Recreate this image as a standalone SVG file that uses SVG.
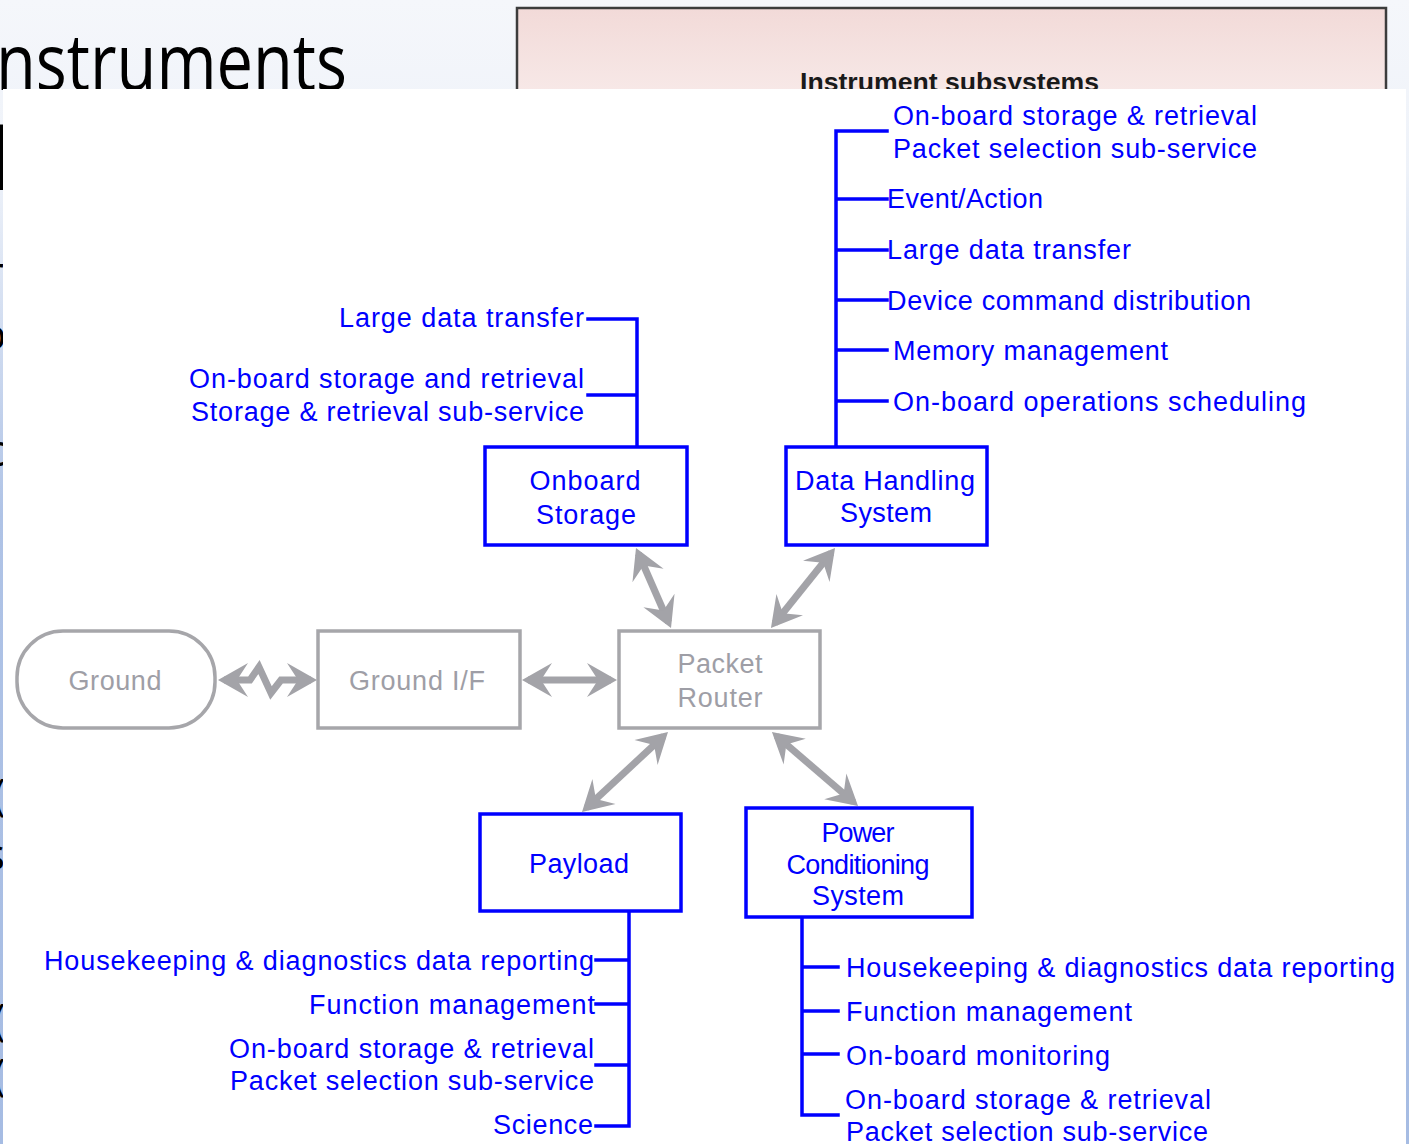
<svg xmlns="http://www.w3.org/2000/svg" width="1409" height="1144" viewBox="0 0 1409 1144">
  <defs>
    <linearGradient id="slideBg" x1="0" y1="0" x2="0" y2="1">
      <stop offset="0" stop-color="#f5f7fb"/>
      <stop offset="0.15" stop-color="#eef2f9"/>
      <stop offset="0.45" stop-color="#afc3e6"/>
      <stop offset="1" stop-color="#a6bce3"/>
    </linearGradient>
    <linearGradient id="pinkFade" x1="0" y1="0" x2="0" y2="1">
      <stop offset="0" stop-color="#f2dad8"/>
      <stop offset="1" stop-color="#fefcfc"/>
    </linearGradient>
    <marker id="head" viewBox="-32 -18 34 36" refX="-6" refY="0" markerWidth="34" markerHeight="36" markerUnits="userSpaceOnUse" orient="auto-start-reverse">
      <path d="M0,0 L-30,-17 L-19,0 L-30,17 Z" fill="#a3a3a8"/>
    </marker>
    <style>
      .lbl { font-family: "Liberation Sans", Arial, sans-serif; font-size: 27px; fill: #0000ff; }
      .glbl { font-family: "Liberation Sans", Arial, sans-serif; font-size: 27px; fill: #9e9ea6; }
      .node { fill: #ffffff; stroke: #0000ff; stroke-width: 3.5; }
      .gnode { fill: #ffffff; stroke: #a6a6aa; stroke-width: 3.5; }
      .tree { fill: none; stroke: #0000ff; stroke-width: 3.5; stroke-linecap: square; }
      .link { fill: none; stroke: #a3a3a8; stroke-width: 7; stroke-linejoin: miter; marker-start: url(#head); marker-end: url(#head); }
      .slide { font-family: "Open Sans", "Lato", sans-serif; fill: #000000; }
    </style>
  </defs>

  <!-- slide backdrop -->
  <rect x="0" y="0" width="1409" height="1144" fill="url(#slideBg)"/>
  <text class="slide" x="-4" y="90" font-size="78" textLength="351" lengthAdjust="spacingAndGlyphs">nstruments</text>
  <g class="slide" font-size="44">
    <text x="-8" y="190" font-size="86">l</text>
    <text x="-14" y="288">r</text>
    <text x="-20" y="350">o</text>
    <text x="-15" y="466">c</text>
    <text x="-7" y="810">(</text>
    <text x="-16" y="870">s</text>
    <text x="-7" y="1035">(</text>
    <text x="-7" y="1090">(</text>
  </g>

  <!-- titled frame behind the diagram -->
  <rect x="517" y="8" width="869" height="200" fill="url(#pinkFade)" stroke="#3c3c3c" stroke-width="2.5"/>
  <text x="800" y="91" font-family="'Liberation Sans', Arial, sans-serif" font-size="26" font-weight="bold" fill="#1a1a1a" textLength="299" lengthAdjust="spacingAndGlyphs">Instrument subsystems</text>

  <!-- diagram sheet -->
  <rect x="3" y="89" width="1403" height="1055" fill="#ffffff"/>

  <g id="connectors">
    <!-- router links -->
    <path class="link" d="M224,680 L250,680 L259,667 L271,693 L281,680 L311,680"/>
    <path class="link" d="M528,680 L611,680"/>
    <path class="link" d="M638.4,553.5 L668.6,622.5"/>
    <path class="link" d="M831.3,552.7 L774.7,623.3"/>
    <path class="link" d="M663.6,736.1 L586.4,807.9"/>
    <path class="link" d="M776.5,735.9 L853.5,802.1"/>
    <!-- service trees -->
    <path class="tree" d="M637,447 V319 H588 M637,395 H588"/>
    <path class="tree" d="M836,447 V131 H887 M836,199 H887 M836,250 H887 M836,300 H887 M836,350 H887 M836,401 H887"/>
    <path class="tree" d="M629,911 V1126 H596 M629,960 H596 M629,1004 H596 M629,1065 H596"/>
    <path class="tree" d="M802,917 V1115 H838 M802,967 H838 M802,1011 H838 M802,1054 H838"/>
  </g>

  <g id="ground">
    <rect class="gnode" x="17" y="631" width="198" height="97" rx="46" ry="46"/>
    <text class="glbl" x="115" y="690" text-anchor="middle" textLength="93">Ground</text>
  </g>
  <g id="ground-if">
    <rect class="gnode" x="318" y="631" width="202" height="97"/>
    <text class="glbl" x="417" y="690" text-anchor="middle" textLength="136">Ground I/F</text>
  </g>
  <g id="packet-router">
    <rect class="gnode" x="619" y="631" width="201" height="97"/>
    <text class="glbl" x="720" y="673" text-anchor="middle" textLength="85">Packet</text>
    <text class="glbl" x="720" y="707" text-anchor="middle" textLength="85">Router</text>
  </g>

  <g id="onboard-storage">
    <rect class="node" x="485" y="447" width="202" height="98"/>
    <text class="lbl" x="585" y="490" text-anchor="middle" textLength="111">Onboard</text>
    <text class="lbl" x="586" y="524" text-anchor="middle" textLength="100">Storage</text>
  </g>
  <g id="onboard-storage-services" class="lbl" text-anchor="end">
    <text x="584" y="327" textLength="245">Large data transfer</text>
    <text x="584" y="388" textLength="395">On-board storage and retrieval</text>
    <text x="584" y="421" textLength="393">Storage &amp; retrieval sub-service</text>
  </g>

  <g id="data-handling">
    <rect class="node" x="786" y="447" width="201" height="98"/>
    <text class="lbl" x="885" y="490" text-anchor="middle" textLength="180">Data Handling</text>
    <text class="lbl" x="886" y="522" text-anchor="middle" textLength="92">System</text>
  </g>
  <g id="data-handling-services" class="lbl">
    <text x="893" y="125" textLength="364">On-board storage &amp; retrieval</text>
    <text x="893" y="158" textLength="364">Packet selection sub-service</text>
    <text x="887" y="208" textLength="156">Event/Action</text>
    <text x="887" y="259" textLength="244">Large data transfer</text>
    <text x="887" y="310" textLength="364">Device command distribution</text>
    <text x="893" y="360" textLength="275">Memory management</text>
    <text x="893" y="411" textLength="413">On-board operations scheduling</text>
  </g>

  <g id="payload">
    <rect class="node" x="480" y="814" width="201" height="97"/>
    <text class="lbl" x="579" y="873" text-anchor="middle" textLength="100">Payload</text>
  </g>
  <g id="payload-services" class="lbl" text-anchor="end">
    <text x="594" y="970" textLength="550">Housekeeping &amp; diagnostics data reporting</text>
    <text x="595" y="1014" textLength="286">Function management</text>
    <text x="594" y="1058" textLength="365">On-board storage &amp; retrieval</text>
    <text x="594" y="1090" textLength="364">Packet selection sub-service</text>
    <text x="593" y="1134" textLength="100">Science</text>
  </g>

  <g id="power-conditioning">
    <rect class="node" x="746" y="808" width="226" height="109"/>
    <text class="lbl" x="858" y="842" font-size="25" text-anchor="middle" textLength="73">Power</text>
    <text class="lbl" x="858" y="874" font-size="25" text-anchor="middle" textLength="143">Conditioning</text>
    <text class="lbl" x="858" y="905" font-size="25" text-anchor="middle" textLength="92">System</text>
  </g>
  <g id="power-conditioning-services" class="lbl">
    <text x="846" y="977" textLength="549">Housekeeping &amp; diagnostics data reporting</text>
    <text x="846" y="1021" textLength="286">Function management</text>
    <text x="846" y="1065" textLength="264">On-board monitoring</text>
    <text x="845" y="1109" textLength="366">On-board storage &amp; retrieval</text>
    <text x="846" y="1141" textLength="362">Packet selection sub-service</text>
  </g>
</svg>
